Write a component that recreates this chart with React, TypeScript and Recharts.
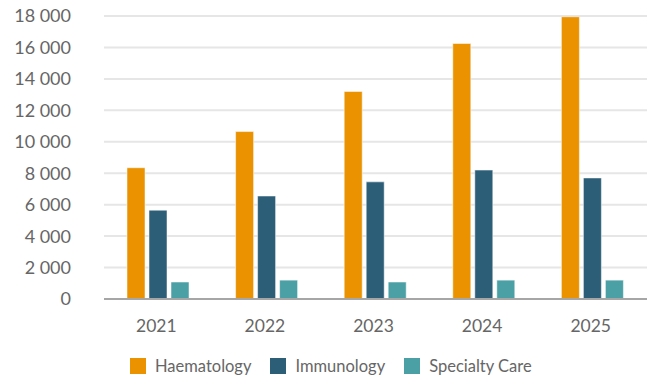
import React from 'react';
import { BarChart, Bar, XAxis, YAxis, CartesianGrid, Legend } from 'recharts';

const years = ['2021', '2022', '2023', '2024', '2025'];
const haematology = [8350, 10650, 13200, 16250, 17950];
const immunology = [5650, 6550, 7450, 8200, 7700];
const specialtyCare = [1080, 1200, 1080, 1200, 1200];
const yTicks = [0, 2000, 4000, 6000, 8000, 10000, 12000, 14000, 16000, 18000];

const series = [
  { key: 'haematology', name: 'Haematology', color: '#EA9200' },
  { key: 'immunology', name: 'Immunology', color: '#2C5E77' },
  { key: 'specialtyCare', name: 'Specialty Care', color: '#4BA0A6' },
];

const data = years.map((year, i) => ({
  year,
  haematology: haematology[i],
  immunology: immunology[i],
  specialtyCare: specialtyCare[i],
}));

const FONT = 'Lato, "Open Sans", sans-serif';
const TEXT = '#666666';

// thousands separated by a space: 18 000
const fmt = (v: number) => (v === 0 ? '0' : v.toLocaleString('en-US').replace(/,/g, ' '));

const LegendRow = () => (
  <div style={{ display: 'flex', alignItems: 'center', paddingLeft: 130, height: 20, fontFamily: FONT, fontSize: 16.5, color: TEXT }}>
    {series.map((s) => (
      <div key={s.key} style={{ display: 'flex', alignItems: 'center', marginRight: 19 }}>
        <span style={{ width: 16, height: 16, background: s.color, display: 'inline-block', marginRight: 9 }} />
        <span>{s.name}</span>
      </div>
    ))}
  </div>
);

export default function App() {
  return (
    <div style={{ position: 'absolute', left: 0, top: 0, width: 647, height: 376, background: '#fff' }}>
      <BarChart
        width={647}
        height={376}
        data={data}
        margin={{ top: 16, right: 0, bottom: 0, left: 0 }}
        barSize={18}
        barGap={4}
      >
        <CartesianGrid vertical={false} stroke="#E6E6E6" strokeWidth={2} />
        <XAxis
          dataKey="year"
          height={57}
          tickLine={false}
          tickSize={0}
          tickMargin={21}
          axisLine={{ stroke: '#A6A6A6', strokeWidth: 2 }}
          tick={{ fill: TEXT, fontSize: 17.5, fontFamily: FONT, dx: -2 }}
        />
        <YAxis
          width={104}
          domain={[0, 18000]}
          ticks={yTicks}
          interval={0}
          axisLine={false}
          tickLine={false}
          tickSize={0}
          tickMargin={33}
          tickFormatter={fmt}
          tick={{ fill: TEXT, fontSize: 18, fontFamily: FONT }}
        />
        <Legend verticalAlign="bottom" wrapperStyle={{ left: 0, width: 647 }} content={() => <LegendRow />} />
        {series.map((s) => (
          <Bar key={s.key} dataKey={s.key} name={s.name} fill={s.color} stroke="#FFFFFF" strokeOpacity={0.5} strokeWidth={1} isAnimationActive={false} />
        ))}
      </BarChart>
    </div>
  );
}
